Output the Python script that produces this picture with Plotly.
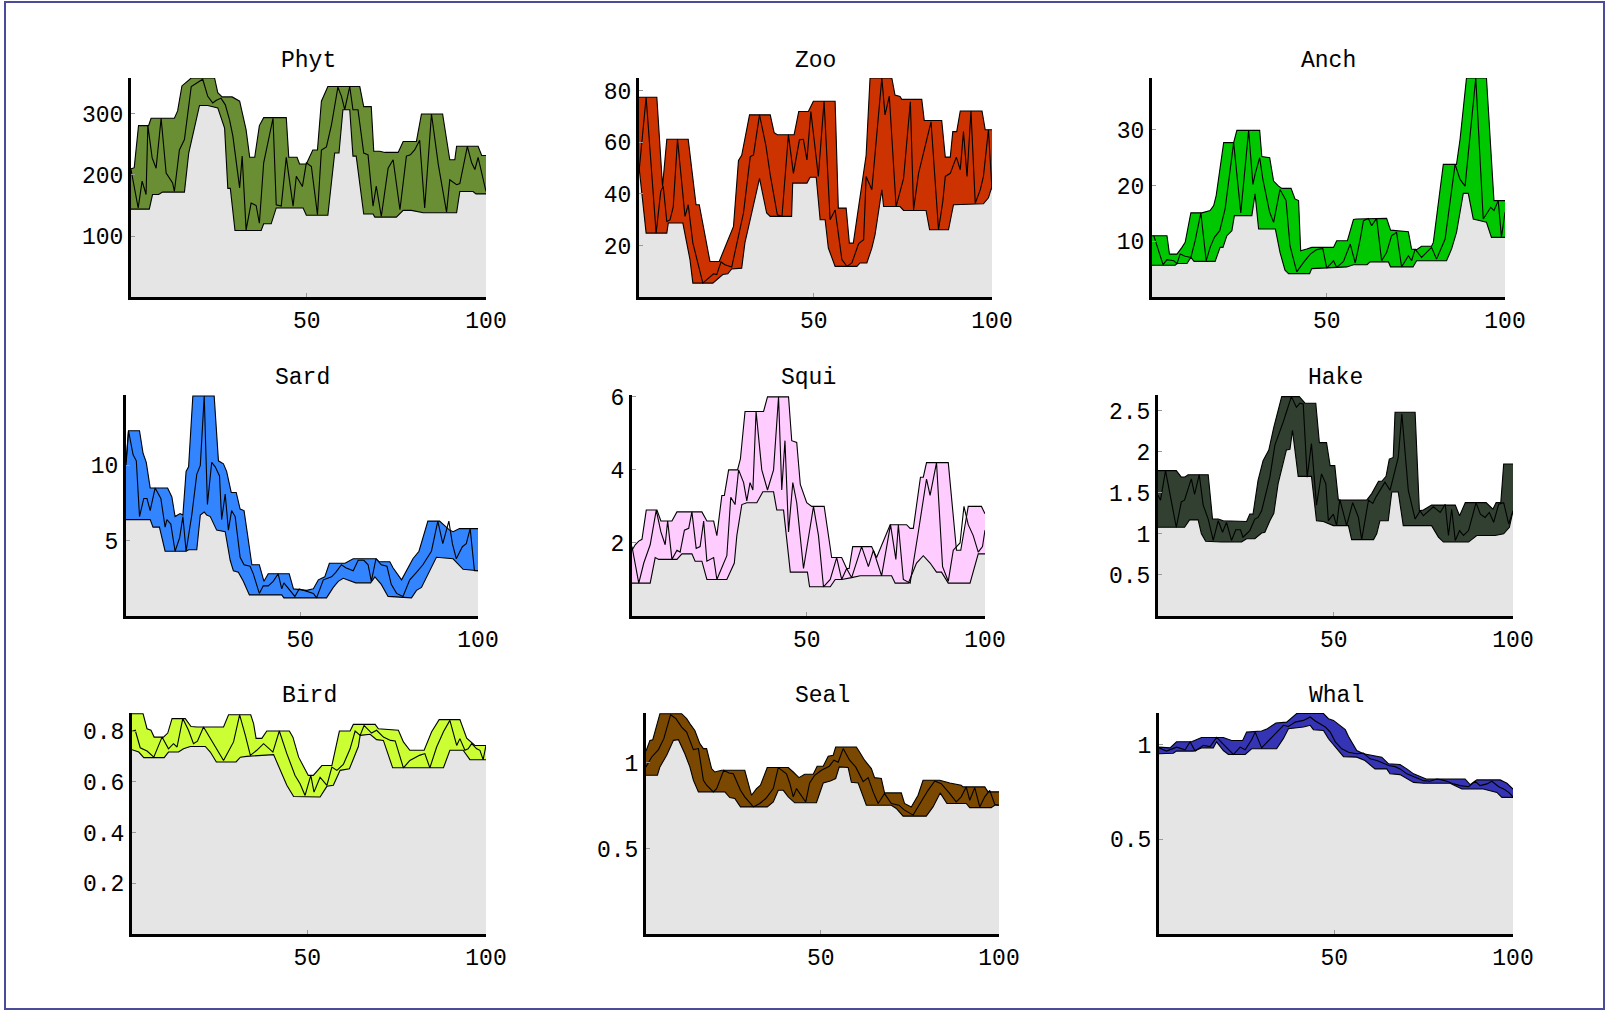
import plotly.graph_objects as go

# ---------------- data ----------------
PHYT_UP_X = [1, 1.9, 3.1, 5.9, 6.6, 13.1, 14.0, 15.2, 17.8, 24.3, 25.2, 26.4, 29.2, 31.3, 33.1, 34.1, 35.5, 36.8, 38.0, 44.3, 45.0, 47.3, 48.0, 49.9, 51.7, 53.0, 54.1, 55.9, 64.8, 65.9, 68.0, 68.7, 70.4, 71.8, 75.5, 76.9, 80.6, 82.0, 87.9, 89.9, 91.3, 91.8, 97.8, 98.8, 100]
PHYT_UP_Y = [210, 212, 281, 281, 293, 293, 305, 346, 359, 359, 335, 328, 328, 321, 274, 229, 229, 281, 294, 294, 229, 229, 218, 218, 241, 241, 321, 345, 345, 312, 312, 239, 239, 237, 237, 255, 255, 300, 300, 225, 225, 247, 247, 232, 232]
PHYT_LO_X = [1, 6.1, 7.0, 8.7, 9.8, 15.9, 17.1, 18.7, 20.1, 22.4, 25.2, 27.1, 28.0, 28.7, 30.0, 37.3, 38.0, 40.1, 41.5, 49.0, 49.9, 55.9, 56.9, 57.8, 59.0, 60.1, 62.0, 62.9, 63.8, 65.9, 68.5, 69.0, 75.0, 76.9, 79.2, 82.5, 91.8, 92.7, 96.4, 97.2, 100]
PHYT_LO_Y = [144, 144, 168, 168, 172, 172, 236, 280, 314, 314, 310, 277, 178, 178, 109, 109, 120, 120, 146, 146, 134, 134, 192, 236, 236, 307, 307, 231, 231, 136, 136, 131, 131, 142, 142, 138, 138, 173, 173, 169, 169]
PHYT_MID_X = [1, 3.0, 4.1, 5.2, 5.7, 6.9, 8.0, 9.4, 10.8, 12.6, 13.1, 14.5, 15.9, 17.8, 21.0, 22.4, 23.8, 24.7, 26.1, 27.3, 28.5, 29.4, 31.3, 32.0, 33.1, 34.5, 35.9, 36.8, 38.0, 40.6, 41.5, 42.9, 44.3, 46.2, 47.1, 48.8, 49.9, 51.3, 53.0, 54.1, 55.5, 56.9, 58.7, 59.7, 60.6, 62.0, 62.9, 64.3, 65.9, 67.1, 68.5, 69.4, 70.8, 72.7, 74.1, 76.0, 77.8, 78.9, 80.1, 81.5, 82.9, 84.8, 86.7, 89.0, 89.9, 91.8, 92.7, 94.8, 96.0, 96.9, 97.8, 100]
PHYT_MID_Y = [209, 146, 190, 168, 281, 228, 211, 293, 203, 187, 173, 241, 258, 345, 357, 329, 318, 322, 326, 315, 290, 264, 179, 231, 110, 154, 150, 121, 220, 293, 151, 149, 229, 149, 198, 181, 220, 214, 135, 241, 246, 282, 344, 329, 307, 345, 307, 307, 236, 233, 149, 182, 132, 211, 225, 143, 231, 233, 241, 257, 146, 300, 217, 139, 192, 184, 186, 247, 220, 209, 229, 173]

ZOO_UP_X = [1, 6.0, 7.6, 8.8, 14.8, 17.0, 17.9, 20.9, 23.5, 25.6, 27.5, 28.9, 29.8, 32.0, 37.8, 38.9, 39.8, 44.5, 45.8, 48.5, 49.9, 56.0, 56.9, 59.1, 60.0, 61.1, 62.6, 63.8, 64.7, 65.8, 71.9, 72.8, 74.2, 74.7, 80.3, 81.0, 85.9, 86.9, 88.3, 89.0, 90.1, 91.1, 97.2, 98.1, 100]
ZOO_UP_Y = [77.5, 77.5, 43, 61.2, 61.2, 35.8, 35.8, 13.8, 13.8, 21, 27.4, 53, 55, 70.7, 70.7, 63.8, 63, 63, 72, 72, 76, 76, 34.5, 34.5, 20.9, 20.9, 35, 46.8, 55, 85, 85, 78.4, 77.8, 76.7, 76.7, 68.5, 68.5, 54.3, 54.3, 64.2, 64.2, 72.2, 72.2, 64.9, 64.9]
ZOO_LO_X = [1, 3.0, 8.8, 9.2, 13.3, 15.3, 16.1, 21.7, 22.8, 24.5, 25.9, 27.0, 29.8, 30.7, 32.6, 34.8, 36.8, 37.8, 43.8, 44.1, 48.1, 49.0, 50.7, 51.8, 53.2, 54.1, 56.0, 62.1, 63.0, 64.9, 66.3, 67.2, 69.1, 69.6, 74.2, 75.2, 81.5, 82.5, 87.8, 89.2, 97.6, 99.0, 100]
ZOO_LO_Y = [50.6, 24.8, 24.8, 28.7, 28.7, 14.5, 5.4, 5.4, 6.7, 8.7, 9, 10.9, 11.2, 21, 32.6, 46, 32.6, 31.3, 31.3, 44.2, 44.2, 46.5, 46.5, 30, 30, 19, 11.9, 11.9, 13.2, 13.2, 19, 24.2, 41.6, 35.1, 35.1, 33.6, 33.6, 26.1, 26.1, 35.8, 36.2, 38.5, 42.9]
ZOO_MID_X = [1, 3.0, 5.8, 7.1, 7.8, 8.8, 9.7, 10.6, 11.8, 13.9, 14.8, 16.1, 18.9, 21.9, 22.8, 24.0, 25.1, 27.0, 30.3, 32.2, 33.1, 34.8, 36.6, 37.8, 39.8, 41.1, 42.9, 44.3, 46.0, 47.1, 48.1, 49.2, 51.3, 52.9, 54.6, 56.0, 57.9, 59.3, 60.7, 62.6, 64.0, 64.7, 66.3, 69.1, 70.0, 71.2, 73.1, 75.2, 77.1, 78.0, 79.4, 81.0, 82.9, 85.0, 86.2, 86.9, 88.3, 90.0, 91.1, 92.0, 93.0, 94.1, 95.3, 96.7, 97.6, 99.0, 100]
ZOO_MID_Y = [48.4, 77.5, 24.8, 41, 43, 29.3, 29.9, 35, 61.2, 31.3, 35.8, 21, 5.4, 9, 8.7, 13.6, 12.5, 11.6, 32.6, 54.5, 55.1, 70.7, 58.7, 47.4, 31.9, 31.3, 63, 48, 61, 61.2, 53.2, 72, 46.8, 76, 30, 33.8, 14.5, 11.9, 13.2, 20.7, 22.2, 46.8, 41.6, 85, 70.7, 78, 35.1, 46, 75.8, 33.8, 48, 57, 68, 26.1, 37, 46.8, 48, 54.3, 49.4, 64.2, 46.8, 72.2, 36.4, 41.6, 46.8, 64.9, 41.6]

ANCH_UP_X = [1, 5.2, 5.9, 8.0, 9.4, 10.3, 11.9, 15.0, 17.3, 18.3, 19.0, 21.1, 23.9, 24.8, 31.2, 31.8, 34.0, 35.1, 36.5, 37.4, 40.0, 41.1, 42.1, 42.7, 44.4, 45.8, 51.9, 52.8, 55.8, 57.5, 58.4, 66.8, 67.9, 72.9, 73.8, 75.2, 76.6, 79.4, 79.9, 80.8, 82.7, 86.4, 87.4, 89.2, 94.8, 96.9, 100]
ANCH_UP_Y = [11, 11, 7.7, 7.7, 8.9, 9.8, 15.1, 15.1, 15.5, 16.4, 18.2, 27.7, 27.7, 29.9, 29.9, 25.2, 25.0, 20.8, 19.9, 19.5, 19.5, 17.6, 17.3, 8.3, 8.6, 8.9, 8.9, 10.1, 10.1, 13.9, 14.0, 14.1, 12, 11.7, 8.6, 8.5, 9.1, 9.1, 9.8, 14, 23.8, 23.8, 28.3, 39.3, 39.3, 17.3, 17.3]
ANCH_LO_X = [1, 7.5, 8.0, 10.8, 11.9, 12.8, 18.7, 20.1, 20.9, 22.0, 23.4, 24.1, 29.0, 29.9, 30.9, 35.6, 36.9, 38.3, 39.3, 45.2, 45.8, 49.9, 55.6, 57.5, 61.3, 62.2, 67.3, 67.9, 74.2, 75.2, 83.6, 85.0, 86.4, 88.3, 89.7, 91.1, 94.8, 96.2, 100]
ANCH_LO_Y = [5.7, 5.7, 6.0, 6.0, 7.1, 6.4, 6.4, 8.9, 8.9, 11, 11.9, 14.6, 14.6, 18.5, 12.2, 12.2, 8, 4.8, 4.2, 4.2, 5.1, 5.2, 5.4, 5.8, 5.8, 6.3, 6.3, 5.4, 5.4, 6.5, 6.5, 8.6, 11.6, 18.6, 18.6, 14, 13.4, 10.7, 10.7]
ANCH_MID_X = [1.5, 4.1, 5.2, 7.1, 8.0, 8.9, 10.3, 11.9, 13.1, 14.7, 16.2, 17.3, 18.5, 20.0, 21.5, 23.9, 25.9, 28.1, 29.3, 29.9, 31.2, 32.1, 34.0, 35.1, 36.9, 38.6, 39.7, 41.6, 43.5, 45.4, 47.2, 48.9, 50.0, 51.9, 52.8, 54.7, 56.6, 58.0, 59.4, 60.3, 61.7, 62.6, 64.0, 65.4, 66.8, 68.2, 69.6, 71.0, 72.9, 73.8, 74.8, 76.6, 79.4, 80.8, 83.2, 86.0, 87.4, 88.8, 91.8, 93.9, 96.0, 96.9, 98.1, 99.0, 100]
ANCH_MID_Y = [11, 5.8, 6.7, 6.5, 6.0, 7.7, 7.3, 7.1, 10.1, 15.1, 6.5, 8.9, 10.7, 11.9, 15.8, 27.7, 15.1, 29.9, 20.2, 22, 25, 21.1, 15.2, 13.4, 19.3, 17.3, 9.2, 4.5, 6.2, 7.7, 8.5, 8.7, 5.2, 6.5, 5.3, 6.4, 9.5, 6.1, 10.4, 13.7, 14.1, 12.8, 14.1, 6.5, 8, 11, 11.6, 5.4, 7.4, 6.5, 8.6, 7.1, 8.9, 6.8, 10.4, 23.8, 21.1, 19.9, 39.3, 14, 16.1, 15.5, 17.3, 10.7, 15.2]

SARD_UP_X = [1, 1.7, 4.8, 5.8, 6.7, 7.8, 12.7, 13.9, 14.8, 16.2, 17.0, 17.9, 18.6, 19.8, 25.8, 27.0, 28.4, 29.3, 30.6, 32.0, 33.1, 34.2, 35.0, 36.4, 38.5, 39.8, 41.0, 46.9, 48.1, 51.8, 53.7, 55.1, 56.9, 58.2, 62.6, 64.9, 71.4, 72.2, 75.2, 76.1, 78.5, 79.9, 81.7, 83.4, 85.9, 89.2, 92.0, 93.0, 94.8, 100]
SARD_UP_Y = [10.2, 12.3, 12.3, 10.8, 10.2, 8.5, 8.5, 7.9, 6.6, 6.8, 6.7, 9.6, 9.9, 14.6, 14.6, 10.3, 10.1, 9.6, 8.2, 8.2, 7.1, 7.0, 5.7, 3.4, 3.4, 2.3, 2.8, 2.8, 1.8, 1.7, 1.8, 2.4, 2.6, 3.5, 3.5, 3.8, 3.8, 3.6, 3.6, 3.2, 2.4, 3.0, 3.8, 4.3, 6.3, 6.3, 5.7, 5.6, 5.8, 5.8]
SARD_LO_X = [1, 7.8, 8.6, 10.4, 12.0, 17.9, 18.6, 20.9, 21.9, 23.0, 23.7, 24.7, 26.5, 28.9, 30.3, 31.2, 32.6, 34.0, 35.7, 44.8, 45.4, 57.4, 59.3, 60.7, 62.1, 65.6, 69.8, 71.0, 72.8, 74.7, 81.3, 82.7, 84.1, 85.5, 88.3, 93.0, 95.8, 100]
SARD_LO_Y = [6.4, 6.4, 5.9, 5.9, 4.3, 4.3, 4.4, 4.4, 6.7, 6.9, 6.7, 6.6, 5.7, 5.6, 3.7, 3.0, 2.9, 2.3, 1.4, 1.4, 1.2, 1.2, 1.9, 2.3, 2.5, 2.2, 2.2, 2.6, 2.1, 1.3, 1.2, 1.7, 1.9, 2.6, 3.9, 3.8, 3.1, 3.0]
SARD_MID_X = [1, 1.7, 3.0, 3.9, 4.8, 6.0, 6.9, 7.8, 9.2, 10.8, 12.0, 12.5, 13.6, 14.8, 16.1, 17.0, 17.9, 19.5, 20.9, 21.9, 23.0, 23.9, 25.1, 26.1, 27.3, 27.9, 28.9, 29.8, 30.7, 31.7, 33.1, 34.2, 35.9, 36.8, 38.5, 39.6, 41.0, 42.4, 43.8, 44.8, 45.4, 47.1, 48.5, 49.7, 51.3, 53.7, 54.6, 56.5, 58.8, 60.0, 61.6, 62.8, 64.9, 66.3, 67.9, 69.1, 70.0, 71.3, 72.8, 74.4, 75.6, 77.1, 78.9, 80.8, 82.7, 84.5, 86.9, 88.7, 90.1, 91.8, 92.8, 93.9, 95.6, 96.7, 97.8, 99.0, 100]
SARD_MID_Y = [10, 12.3, 10.7, 10.3, 6.6, 7.8, 7.8, 7.0, 8.5, 7.8, 5.9, 6.4, 6.1, 4.3, 5.2, 6.6, 4.3, 6.7, 9.4, 10, 14.6, 7.4, 10.2, 9.9, 9.3, 6.4, 8.1, 5.7, 7.0, 6.6, 3.9, 3.4, 3.3, 2.8, 1.5, 2.0, 2.0, 2.3, 2.8, 1.8, 2.2, 1.7, 1.3, 1.8, 1.7, 1.5, 1.2, 2.4, 2.6, 2.9, 3.4, 3.2, 3.0, 3.7, 3.7, 3.4, 2.3, 3.8, 3.4, 3.3, 2.1, 1.5, 1.3, 2.4, 2.9, 3.4, 4.3, 6.3, 4.8, 6.3, 4.8, 3.8, 4.6, 4.8, 5.8, 3.0, 3.0]

SQUI_UP_X = [1, 1.9, 2.9, 3.8, 5.0, 8.0, 9.1, 12.2, 13.6, 20.6, 22.0, 23.9, 24.8, 26.2, 26.9, 28.1, 30.6, 31.4, 32.7, 37.9, 39.0, 44.9, 45.8, 47.2, 48.2, 50.0, 51.4, 54.9, 57.0, 59.8, 61.2, 61.9, 62.9, 68.2, 69.6, 73.4, 78.0, 79.0, 79.9, 81.9, 82.7, 83.6, 89.7, 92.0, 93.2, 95.3, 99.0, 100]
SQUI_UP_Y = [1.8, 1.95, 2.05, 2.1, 2.9, 2.9, 2.6, 2.6, 2.85, 2.85, 2.6, 2.6, 2.2, 3.3, 3.3, 4.0, 4.0, 4.3, 5.6, 5.6, 6.0, 6.0, 4.8, 4.75, 3.6, 3.1, 3.0, 3.0, 1.6, 1.6, 1.3, 1.3, 1.9, 1.9, 1.6, 2.5, 2.5, 2.4, 2.4, 3.8, 3.8, 4.2, 4.2, 1.8, 1.8, 3.0, 3.0, 2.8]
SQUI_LO_X = [1, 6.1, 7.5, 8.5, 13.6, 15.0, 17.8, 18.7, 20.6, 22.0, 27.6, 28.5, 29.7, 30.4, 31.8, 33.2, 36.0, 37.7, 40.7, 41.6, 43.5, 45.4, 50.2, 50.8, 56.6, 58.0, 59.8, 62.6, 65.0, 73.8, 74.8, 78.5, 80.8, 82.7, 84.6, 86.4, 87.8, 89.7, 95.8, 98.1, 100]
SQUI_LO_Y = [0.9, 0.9, 1.6, 1.55, 1.55, 1.7, 1.7, 1.5, 1.5, 1.0, 1.0, 1.2, 1.45, 2.2, 3.05, 3.1, 3.1, 3.4, 3.4, 2.9, 2.9, 1.2, 1.2, 0.8, 0.8, 1.0, 1.0, 1.05, 1.1, 1.1, 0.9, 0.9, 1.45, 1.65, 1.45, 1.2, 1.2, 0.9, 0.9, 1.7, 1.7]
SQUI_MID_X = [1, 2.9, 4.3, 6.1, 7.8, 9.1, 10.3, 11.0, 12.2, 13.6, 14.5, 15.7, 16.9, 17.8, 19.0, 20.1, 21.1, 22.0, 23.9, 24.8, 27.6, 28.7, 29.9, 30.9, 32.3, 33.2, 34.1, 34.9, 35.8, 37.4, 39.0, 40.7, 42.1, 43.0, 43.9, 44.9, 46.1, 47.2, 49.1, 51.9, 53.3, 54.7, 56.6, 58.4, 59.8, 61.2, 62.6, 65.4, 67.3, 68.7, 71.0, 73.5, 75.0, 75.7, 77.1, 79.0, 81.3, 83.6, 84.6, 86.4, 88.1, 89.7, 91.1, 93.0, 94.1, 95.3, 96.7, 98.1, 99.3, 100]
SQUI_MID_Y = [1.9, 0.9, 1.45, 1.95, 2.9, 2.3, 1.95, 2.6, 1.55, 1.8, 1.75, 2.35, 2.4, 2.85, 1.85, 1.9, 2.6, 1.5, 1.6, 1.0, 1.65, 3.25, 3.05, 4.0, 3.65, 3.15, 3.65, 3.45, 5.6, 4.0, 3.45, 4.0, 6.0, 3.45, 4.8, 2.3, 3.65, 3.1, 1.3, 3.0, 2.2, 0.8, 1.0, 1.6, 1.0, 1.3, 1.05, 1.9, 1.35, 1.8, 1.1, 2.5, 1.55, 2.5, 1.0, 0.9, 2.3, 3.75, 3.3, 4.2, 1.35, 0.95, 1.8, 2.0, 3.0, 2.5, 2.2, 1.75, 1.9, 2.35]

HAKE_UP_X = [1, 6.1, 7.5, 8.4, 9.4, 15.0, 16.2, 17.8, 19.2, 22.9, 25.7, 26.6, 27.5, 28.9, 30.3, 31.9, 33.3, 35.5, 40.4, 42.0, 45.0, 46.0, 48.0, 49.0, 50.3, 51.3, 59.2, 60.6, 62.5, 63.4, 64.6, 65.5, 66.6, 67.1, 72.7, 73.9, 75.0, 77.3, 83.9, 85.1, 86.7, 92.5, 94.4, 95.3, 96.6, 97.4, 100]
HAKE_UP_Y = [1.77, 1.77, 1.69, 1.69, 1.72, 1.72, 1.18, 1.18, 1.16, 1.15, 1.15, 1.24, 1.24, 1.65, 1.89, 2.02, 2.3, 2.67, 2.67, 2.59, 2.59, 2.11, 2.11, 1.83, 1.83, 1.41, 1.41, 1.49, 1.64, 1.64, 1.70, 1.91, 1.93, 2.48, 2.48, 1.28, 1.29, 1.35, 1.35, 1.22, 1.38, 1.38, 1.30, 1.38, 1.38, 1.85, 1.85]
HAKE_LO_X = [1, 8.4, 9.8, 12.2, 13.1, 14.3, 18.7, 24.3, 25.7, 28.0, 29.9, 30.8, 32.2, 33.3, 34.5, 35.9, 36.8, 37.8, 38.5, 40.1, 43.8, 45.2, 47.1, 49.9, 54.1, 55.0, 61.1, 62.0, 62.9, 65.2, 66.2, 68.0, 69.4, 77.3, 79.2, 80.6, 87.6, 89.9, 95.0, 97.4, 99.0, 100]
HAKE_LO_Y = [1.08, 1.08, 1.17, 1.17, 1.0, 0.91, 0.9, 0.9, 0.94, 0.94, 1.01, 1.02, 1.16, 1.25, 1.61, 1.87, 2.02, 2.03, 2.26, 1.7, 1.7, 1.16, 1.15, 1.1, 1.1, 0.93, 0.93, 1.0, 1.16, 1.16, 1.51, 1.51, 1.1, 1.1, 0.96, 0.9, 0.9, 0.98, 0.98, 1.0, 1.08, 1.28]
HAKE_MID_X = [1, 1.7, 3.1, 4.7, 6.1, 7.5, 8.4, 9.7, 10.3, 11.2, 12.5, 13.6, 15.0, 16.4, 17.8, 19.0, 20.1, 21.5, 22.7, 24.0, 24.7, 26.6, 28.0, 28.9, 29.9, 31.3, 32.2, 33.6, 34.8, 35.9, 36.8, 38.2, 39.6, 40.6, 41.5, 42.6, 43.8, 45.2, 46.6, 47.8, 48.5, 49.9, 50.8, 51.7, 53.6, 55.3, 56.9, 57.8, 59.7, 60.9, 61.8, 62.9, 64.3, 65.7, 67.1, 68.0, 69.0, 70.8, 72.7, 74.1, 75.0, 76.4, 77.8, 79.7, 81.1, 82.0, 82.9, 83.9, 85.1, 86.2, 87.6, 89.7, 90.9, 92.2, 93.4, 94.6, 96.0, 97.4, 98.8, 100]
HAKE_MID_Y = [1.47, 1.41, 1.77, 1.41, 1.08, 1.39, 1.41, 1.59, 1.67, 1.48, 1.72, 1.35, 1.18, 0.92, 1.16, 1.02, 1.14, 0.92, 1.05, 1.05, 0.96, 1.04, 1.18, 1.2, 1.28, 1.53, 1.69, 2.08, 2.22, 2.36, 2.48, 2.67, 2.54, 2.59, 2.58, 1.69, 2.10, 1.35, 1.73, 1.61, 1.16, 1.24, 1.10, 1.42, 1.10, 1.38, 1.2, 0.93, 1.41, 1.37, 1.45, 1.53, 1.63, 1.53, 1.77, 1.93, 2.46, 1.53, 1.18, 1.28, 1.22, 1.28, 1.33, 1.26, 1.36, 0.98, 1.30, 0.92, 1.04, 0.98, 1.04, 1.38, 1.24, 1.2, 1.26, 1.14, 1.36, 1.38, 1.12, 1.28]

BIRD_UP_X = [1, 4.1, 5.2, 6.3, 7.2, 9.8, 11.0, 12.2, 15.9, 17.5, 19.2, 26.6, 28.0, 34.2, 35.0, 35.7, 37.3, 38.7, 45.0, 46.0, 47.6, 49.4, 50.3, 51.7, 54.1, 56.9, 59.0, 62.0, 62.9, 69.0, 69.9, 75.5, 76.9, 78.7, 82.7, 84.8, 86.9, 92.7, 94.6, 96.9, 100]
BIRD_UP_Y = [0.868, 0.868, 0.809, 0.803, 0.776, 0.776, 0.792, 0.849, 0.849, 0.818, 0.816, 0.816, 0.864, 0.864, 0.829, 0.771, 0.771, 0.80, 0.80, 0.776, 0.697, 0.651, 0.625, 0.625, 0.664, 0.664, 0.80, 0.80, 0.826, 0.826, 0.809, 0.803, 0.757, 0.724, 0.724, 0.797, 0.845, 0.845, 0.772, 0.743, 0.743]
BIRD_LO_X = [1, 2.9, 4.3, 10.0, 11.2, 14.0, 15.4, 17.3, 21.5, 22.9, 24.6, 30.1, 31.3, 33.1, 40.6, 42.0, 44.3, 46.2, 53.6, 55.5, 57.3, 59.2, 61.8, 64.3, 64.8, 67.6, 69.4, 71.3, 73.9, 88.1, 89.9, 93.6, 95.5, 100]
BIRD_LO_Y = [0.726, 0.717, 0.695, 0.695, 0.717, 0.717, 0.73, 0.739, 0.739, 0.717, 0.678, 0.678, 0.697, 0.70, 0.707, 0.661, 0.586, 0.542, 0.54, 0.582, 0.586, 0.645, 0.651, 0.739, 0.783, 0.787, 0.766, 0.763, 0.655, 0.655, 0.724, 0.724, 0.687, 0.687]
BIRD_MID_X = [1, 1.9, 3.3, 5.2, 7.1, 9.4, 11.2, 12.6, 13.6, 15.2, 16.8, 18.2, 19.3, 21.0, 23.8, 26.6, 29.4, 31.1, 32.7, 34.1, 35.9, 37.8, 40.4, 42.2, 44.3, 46.6, 48.0, 49.4, 51.0, 51.9, 53.6, 55.5, 56.9, 58.3, 60.1, 62.0, 63.4, 64.8, 65.9, 68.0, 69.4, 71.3, 73.3, 74.6, 76.9, 78.7, 81.4, 82.9, 84.3, 86.2, 88.1, 89.9, 91.8, 92.7, 94.1, 95.0, 96.0, 97.4, 98.3, 99.2, 100]
BIRD_MID_Y = [0.799, 0.803, 0.734, 0.721, 0.697, 0.776, 0.73, 0.75, 0.737, 0.849, 0.803, 0.75, 0.76, 0.816, 0.75, 0.684, 0.757, 0.864, 0.783, 0.704, 0.724, 0.75, 0.717, 0.80, 0.711, 0.625, 0.592, 0.546, 0.625, 0.559, 0.618, 0.586, 0.658, 0.645, 0.668, 0.73, 0.80, 0.783, 0.822, 0.792, 0.803, 0.776, 0.763, 0.761, 0.655, 0.684, 0.704, 0.711, 0.655, 0.737, 0.797, 0.842, 0.743, 0.77, 0.724, 0.73, 0.75, 0.73, 0.724, 0.687, 0.743]

SEAL_UP_X = [1, 2.1, 2.9, 4.9, 11.0, 12.4, 13.3, 14.7, 16.1, 17.1, 18.0, 19.4, 20.3, 22.2, 28.7, 30.6, 32.0, 33.1, 35.0, 40.9, 42.3, 43.9, 45.5, 47.9, 49.0, 50.7, 52.1, 53.5, 54.2, 60.0, 60.9, 62.3, 64.2, 65.1, 67.0, 67.9, 72.6, 73.5, 75.4, 77.3, 78.7, 83.4, 86.2, 89.4, 89.9, 96.0, 96.9, 100]
SEAL_UP_Y = [1.07, 1.132, 1.136, 1.288, 1.288, 1.259, 1.23, 1.19, 1.113, 1.084, 1.084, 0.967, 0.947, 0.957, 0.957, 0.811, 0.85, 0.87, 0.973, 0.973, 0.947, 0.914, 0.934, 0.934, 0.981, 0.981, 1.039, 1.045, 1.093, 1.093, 1.064, 1.016, 0.967, 0.914, 0.909, 0.825, 0.825, 0.763, 0.743, 0.811, 0.899, 0.899, 0.883, 0.87, 0.86, 0.86, 0.831, 0.831]
SEAL_LO_X = [1, 4.2, 4.9, 6.8, 8.7, 10.1, 11.9, 13.3, 14.3, 15.7, 23.1, 24.5, 25.9, 27.5, 35.0, 36.7, 38.1, 39.5, 40.9, 42.7, 48.8, 50.7, 52.7, 54.2, 55.2, 57.7, 58.6, 60.5, 62.8, 69.8, 71.2, 73.1, 79.6, 81.5, 83.5, 85.4, 90.8, 91.8, 97.8, 98.8, 100]
SEAL_LO_Y = [0.928, 0.928, 0.977, 1.045, 1.132, 1.136, 1.054, 0.977, 0.899, 0.831, 0.831, 0.798, 0.792, 0.743, 0.743, 0.772, 0.84, 0.84, 0.802, 0.767, 0.767, 0.883, 0.895, 0.909, 0.977, 0.973, 0.887, 0.883, 0.753, 0.753, 0.734, 0.689, 0.689, 0.743, 0.825, 0.763, 0.763, 0.739, 0.739, 0.753, 0.753]
SEAL_MID_X = [1, 2.6, 4.5, 6.0, 7.9, 9.4, 11.0, 12.4, 14.3, 15.7, 17.1, 18.0, 19.9, 20.8, 22.8, 24.3, 25.5, 27.5, 28.7, 31.1, 32.9, 34.6, 36.7, 38.1, 40.4, 41.3, 42.3, 43.2, 45.8, 46.9, 48.3, 50.2, 52.4, 53.7, 54.9, 56.3, 58.1, 59.8, 61.9, 63.3, 64.7, 66.1, 67.9, 69.8, 71.9, 73.5, 75.9, 78.2, 80.1, 82.0, 83.8, 86.2, 88.0, 89.4, 90.8, 91.8, 93.2, 94.6, 96.0, 97.4, 98.8, 100]
SEAL_MID_Y = [0.977, 1.035, 1.078, 1.142, 1.282, 1.259, 1.21, 1.181, 1.078, 1.084, 0.899, 0.87, 0.831, 0.85, 0.957, 0.941, 0.937, 0.84, 0.802, 0.743, 0.763, 0.792, 0.85, 0.973, 0.937, 0.883, 0.802, 0.85, 0.772, 0.883, 0.928, 0.957, 0.981, 1.016, 1.004, 1.084, 1.016, 0.977, 0.891, 0.914, 0.831, 0.763, 0.821, 0.763, 0.753, 0.724, 0.695, 0.772, 0.84, 0.895, 0.879, 0.821, 0.772, 0.802, 0.86, 0.782, 0.856, 0.743, 0.802, 0.84, 0.759, 0.753]

WHAL_UP_X = [1, 4.1, 5.9, 10.1, 12.9, 19.0, 21.3, 24.4, 25.5, 29.7, 31.3, 33.7, 36.7, 39.5, 47.0, 48.4, 49.8, 53.1, 54.0, 56.3, 58.2, 60.5, 63.3, 65.2, 68.4, 70.3, 72.2, 75.7, 86.6, 88.0, 89.9, 96.4, 98.3, 100]
WHAL_UP_Y = [0.986, 0.982, 1.014, 1.014, 1.037, 1.037, 1.021, 1.021, 1.065, 1.071, 1.083, 1.113, 1.118, 1.163, 1.163, 1.136, 1.127, 1.078, 1.042, 0.968, 0.951, 0.942, 0.933, 0.898, 0.894, 0.871, 0.845, 0.818, 0.818, 0.788, 0.813, 0.813, 0.795, 0.765]
WHAL_LO_X = [1, 5.0, 5.9, 10.6, 12.9, 16.2, 17.1, 19.0, 20.4, 25.1, 26.9, 33.9, 35.8, 37.2, 41.4, 43.3, 44.2, 47.0, 48.4, 50.7, 52.6, 56.3, 58.6, 61.4, 64.7, 65.6, 68.4, 72.2, 75.0, 82.4, 85.7, 91.7, 95.5, 96.9, 100]
WHAL_LO_Y = [0.951, 0.954, 0.965, 0.965, 0.982, 0.982, 1.014, 0.968, 0.947, 0.947, 0.977, 0.977, 1.032, 1.083, 1.092, 1.101, 1.078, 1.074, 1.03, 0.977, 0.936, 0.933, 0.915, 0.871, 0.871, 0.845, 0.841, 0.80, 0.795, 0.795, 0.765, 0.765, 0.747, 0.721, 0.721]
WHAL_MID_X = [1, 3.1, 5.9, 8.3, 9.7, 11.1, 13.4, 15.3, 17.1, 19.5, 21.8, 23.7, 25.1, 26.9, 27.9, 29.7, 32.1, 33.9, 35.8, 37.2, 39.1, 41.4, 43.3, 44.7, 46.1, 47.5, 48.9, 50.3, 52.1, 54.0, 56.3, 58.2, 60.0, 61.9, 63.8, 65.2, 67.0, 68.4, 70.3, 72.6, 75.0, 76.8, 78.7, 80.1, 81.5, 83.4, 85.2, 87.6, 89.4, 90.8, 92.7, 94.1, 96.0, 97.4, 98.8, 100]
WHAL_MID_Y = [0.982, 0.965, 0.986, 0.972, 1.014, 0.965, 0.995, 0.989, 1.037, 0.989, 0.947, 0.986, 0.972, 1.025, 1.065, 0.982, 1.03, 1.065, 1.101, 1.095, 1.118, 1.127, 1.145, 1.124, 1.11, 1.092, 1.065, 1.014, 0.977, 0.959, 0.951, 0.954, 0.924, 0.915, 0.901, 0.889, 0.883, 0.871, 0.845, 0.827, 0.809, 0.806, 0.818, 0.813, 0.806, 0.792, 0.783, 0.777, 0.806, 0.783, 0.792, 0.806, 0.777, 0.765, 0.747, 0.724]

NAMES = ["Phyt", "Zoo", "Anch", "Sard", "Squi", "Hake", "Bird", "Seal", "Whal"]
SERIES = [
    (PHYT_LO_X, PHYT_LO_Y, PHYT_UP_X, PHYT_UP_Y, PHYT_MID_X, PHYT_MID_Y),
    (ZOO_LO_X, ZOO_LO_Y, ZOO_UP_X, ZOO_UP_Y, ZOO_MID_X, ZOO_MID_Y),
    (ANCH_LO_X, ANCH_LO_Y, ANCH_UP_X, ANCH_UP_Y, ANCH_MID_X, ANCH_MID_Y),
    (SARD_LO_X, SARD_LO_Y, SARD_UP_X, SARD_UP_Y, SARD_MID_X, SARD_MID_Y),
    (SQUI_LO_X, SQUI_LO_Y, SQUI_UP_X, SQUI_UP_Y, SQUI_MID_X, SQUI_MID_Y),
    (HAKE_LO_X, HAKE_LO_Y, HAKE_UP_X, HAKE_UP_Y, HAKE_MID_X, HAKE_MID_Y),
    (BIRD_LO_X, BIRD_LO_Y, BIRD_UP_X, BIRD_UP_Y, BIRD_MID_X, BIRD_MID_Y),
    (SEAL_LO_X, SEAL_LO_Y, SEAL_UP_X, SEAL_UP_Y, SEAL_MID_X, SEAL_MID_Y),
    (WHAL_LO_X, WHAL_LO_Y, WHAL_UP_X, WHAL_UP_Y, WHAL_MID_X, WHAL_MID_Y),
]
YMAX = [359, 85, 39.3, 14.67, 6.05, 2.69, 0.871, 1.292, 1.166]
YTICKS = [[100, 200, 300], [20, 40, 60, 80], [10, 20, 30], [5, 10], [2, 4, 6],
          [0.5, 1, 1.5, 2, 2.5], [0.2, 0.4, 0.6, 0.8], [0.5, 1], [0.5, 1]]
YTICKTEXT = [["100", "200", "300"], ["20", "40", "60", "80"], ["10", "20", "30"], ["5", "10"],
             ["2", "4", "6"], ["0.5", "1", "1.5", "2", "2.5"], ["0.2", "0.4", "0.6", "0.8"],
             ["0.5", "1"], ["0.5", "1"]]
XTICKS = [50, 100]
XTICKTEXT = ["50", "100"]

# ---------------- styling / layout ----------------
W, H = 1606, 1014
COLORS = ["#6a8e33", "#cc3300", "#00c800", "#3385ff", "#ffccff",
          "#314031", "#ccff33", "#7a4800", "#3434b4"]
GRAY = "#e5e5e5"
FONT = "Liberation Mono, Courier New, monospace"
FSIZE = 23
# pixel boxes: (left, right, top, bottom)
BOXES = [(131, 486, 78, 297), (639, 992, 78, 297), (1152, 1505, 78, 297),
         (126, 478, 395, 616), (632, 985, 395, 616), (1158, 1513, 395, 616),
         (132, 486, 713, 934), (646, 999, 713, 934), (1159, 1513, 713, 934)]

fig = go.Figure()
layout = dict(width=W, height=H, margin=dict(l=0, r=0, t=0, b=0, autoexpand=False),
              paper_bgcolor="white", plot_bgcolor="rgba(0,0,0,0)", showlegend=False,
              annotations=[], shapes=[])

for i, (name, ser) in enumerate(zip(NAMES, SERIES)):
    lo_x, lo_y, up_x, up_y, mid_x, mid_y = ser
    sfx = "" if i == 0 else str(i + 1)
    xa, ya = "x" + sfx, "y" + sfx
    # gray area under lower envelope
    fig.add_trace(go.Scatter(x=lo_x, y=lo_y, mode="lines", line=dict(width=0, color=GRAY),
                             fill="tozeroy", fillcolor=GRAY, xaxis=xa, yaxis=ya, hoverinfo="skip"))
    # coloured band between envelopes
    fig.add_trace(go.Scatter(x=list(up_x) + list(lo_x)[::-1], y=list(up_y) + list(lo_y)[::-1],
                             mode="lines", line=dict(width=0, color=COLORS[i]),
                             fill="toself", fillcolor=COLORS[i], xaxis=xa, yaxis=ya, hoverinfo="skip"))
    # envelope outlines and trajectory
    for xs, ys in ((lo_x, lo_y), (up_x, up_y), (mid_x, mid_y)):
        fig.add_trace(go.Scatter(x=xs, y=ys, mode="lines", line=dict(width=1.1, color="black"),
                                 xaxis=xa, yaxis=ya, hoverinfo="skip"))
    l, r, t, b = BOXES[i]
    common = dict(showgrid=False, zeroline=False, showline=True, linewidth=3, linecolor="black",
                  ticks="inside", ticklen=4, tickwidth=1, tickcolor="#999999",
                  tickfont=dict(family=FONT, size=FSIZE, color="black"))
    layout["xaxis" + sfx] = dict(domain=[l / W, r / W], range=[1, 100], anchor=ya,
                                 tickmode="array", tickvals=XTICKS, ticktext=XTICKTEXT, **common)
    layout["yaxis" + sfx] = dict(domain=[1 - b / H, 1 - t / H], range=[0, YMAX[i]], anchor=xa,
                                 tickmode="array", tickvals=YTICKS[i], ticktext=YTICKTEXT[i], **common)
    layout["annotations"].append(dict(text=name, x=(l + r) / 2 / W, y=1 - (t - 17) / H,
                                      xref="paper", yref="paper", showarrow=False,
                                      xanchor="center", yanchor="middle",
                                      font=dict(family=FONT, size=FSIZE, color="black")))

layout["shapes"].append(dict(type="rect", xref="paper", yref="paper",
                             x0=5 / W, x1=1604 / W, y0=1 - 1009 / H, y1=1 - 2 / H,
                             line=dict(color="#4b4b9b", width=2), fillcolor="rgba(0,0,0,0)"))
fig.update_layout(**layout)
fig.write_html("out.html", config={"displayModeBar": False},
               post_script="document.body.style.margin='0';")
